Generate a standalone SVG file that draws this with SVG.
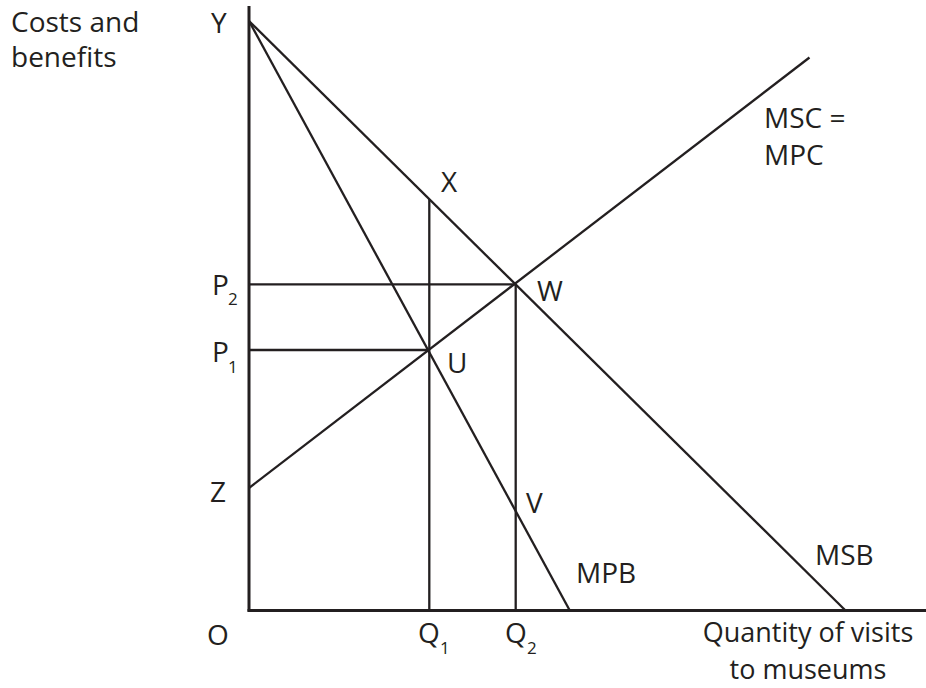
<svg xmlns="http://www.w3.org/2000/svg" width="926" height="688" viewBox="0 0 926 688">
  <style>
    .ax { stroke: #231f20; stroke-width: 3; fill: none; stroke-linecap: butt; }
    .ln { stroke: #231f20; stroke-width: 2.3; fill: none; stroke-linecap: butt; }
    text { font-family: "Open Sans", "Liberation Sans", sans-serif; font-size: 28px; fill: #231f20; }
    .sub { font-size: 17px; }
  </style>
  <rect width="926" height="688" fill="#ffffff"/>
  <g id="connectors">
    <line id="y-axis" class="ax" x1="249" y1="6" x2="249" y2="611.5"/>
    <line id="x-axis" class="ax" x1="247.5" y1="610.5" x2="926" y2="610.5"/>
    <line id="msb" class="ln" x1="249" y1="21" x2="845" y2="610"/>
    <line id="mpb" class="ln" x1="249" y1="21" x2="569.5" y2="610"/>
    <line id="msc" class="ln" x1="249" y1="488" x2="809.5" y2="57.5"/>
    <line id="q1-line" class="ln" x1="429.3" y1="199" x2="429.3" y2="610"/>
    <line id="q2-line" class="ln" x1="515.7" y1="284" x2="515.7" y2="610"/>
    <line id="p2-line" class="ln" x1="249" y1="284.3" x2="515.7" y2="284.3"/>
    <line id="p1-line" class="ln" x1="249" y1="350" x2="429.3" y2="350"/>
  </g>
  <g id="axis-title-y"><text x="11" y="32">Costs and</text><text x="11" y="67">benefits</text></g>
  <g id="axis-title-x" text-anchor="middle" font-size="27"><text x="808" y="642" style="font-size:27px">Quantity of visits</text><text x="808" y="679" style="font-size:27px">to museums</text></g>
  <g id="label-Y"><text x="211" y="33">Y</text></g>
  <g id="label-P2"><text x="212" y="295">P</text><text class="sub" x="228" y="305">2</text></g>
  <g id="label-P1"><text x="212" y="362">P</text><text class="sub" x="228" y="373">1</text></g>
  <g id="label-Z"><text x="210" y="502">Z</text></g>
  <g id="label-O"><text x="207" y="645">O</text></g>
  <g id="label-Q1"><text x="418" y="643">Q</text><text class="sub" x="440" y="654">1</text></g>
  <g id="label-Q2"><text x="505" y="643">Q</text><text class="sub" x="527" y="654">2</text></g>
  <g id="label-X"><text x="441" y="192">X</text></g>
  <g id="label-W"><text x="537" y="301">W</text></g>
  <g id="label-U"><text x="447" y="373">U</text></g>
  <g id="label-V"><text x="526" y="513">V</text></g>
  <g id="label-MPB"><text x="576" y="583">MPB</text></g>
  <g id="label-MSB"><text x="815" y="565">MSB</text></g>
  <g id="label-MSC"><text x="764" y="128">MSC =</text><text x="764" y="165">MPC</text></g>
</svg>
